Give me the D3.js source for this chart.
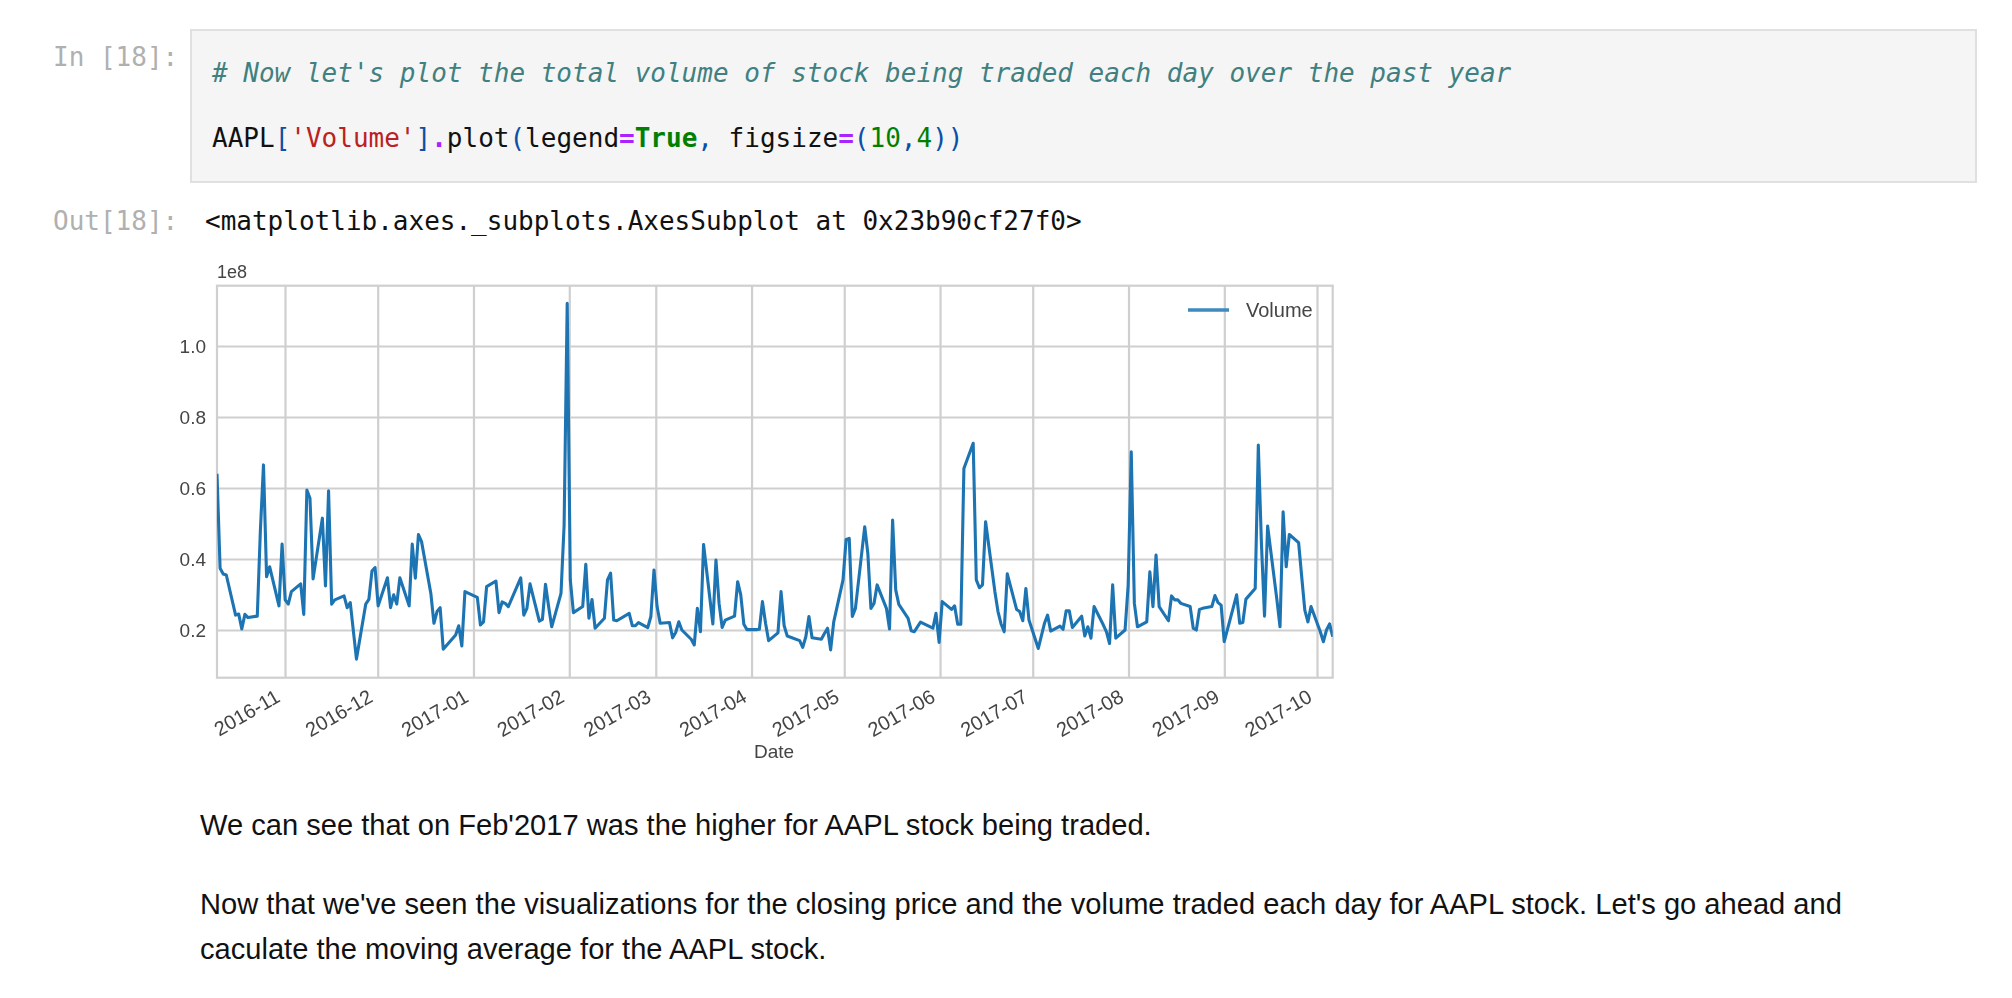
<!DOCTYPE html>
<html><head><meta charset="utf-8"><style>html,body{margin:0;padding:0;background:#fff}svg{display:block}</style>
<script src="https://cdn.jsdelivr.net/npm/d3@7"></script></head><body><script>
const dates=["2016-10-11","2016-10-12","2016-10-13","2016-10-14","2016-10-17","2016-10-18","2016-10-19","2016-10-20","2016-10-21","2016-10-24","2016-10-25","2016-10-26","2016-10-27","2016-10-28","2016-10-31",
"2016-11-01","2016-11-02","2016-11-03","2016-11-04","2016-11-07","2016-11-08","2016-11-09","2016-11-10","2016-11-11","2016-11-14","2016-11-15","2016-11-16","2016-11-17","2016-11-18","2016-11-21","2016-11-22","2016-11-23","2016-11-25","2016-11-28","2016-11-29","2016-11-30",
"2016-12-01","2016-12-02","2016-12-05","2016-12-06","2016-12-07","2016-12-08","2016-12-09","2016-12-12","2016-12-13","2016-12-14","2016-12-15","2016-12-16","2016-12-19","2016-12-20","2016-12-21","2016-12-22","2016-12-23","2016-12-27","2016-12-28","2016-12-29","2016-12-30",
"2017-01-03","2017-01-04","2017-01-05","2017-01-06","2017-01-09","2017-01-10","2017-01-11","2017-01-12","2017-01-13","2017-01-17","2017-01-18","2017-01-19","2017-01-20","2017-01-23","2017-01-24","2017-01-25","2017-01-26","2017-01-27","2017-01-30","2017-01-31",
"2017-02-01","2017-02-02","2017-02-03","2017-02-06","2017-02-07","2017-02-08","2017-02-09","2017-02-10","2017-02-13","2017-02-14","2017-02-15","2017-02-16","2017-02-17","2017-02-21","2017-02-22","2017-02-23","2017-02-24","2017-02-27","2017-02-28",
"2017-03-01","2017-03-02","2017-03-03","2017-03-06","2017-03-07","2017-03-08","2017-03-09","2017-03-10","2017-03-13","2017-03-14","2017-03-15","2017-03-16","2017-03-17","2017-03-20","2017-03-21","2017-03-22","2017-03-23","2017-03-24","2017-03-27","2017-03-28","2017-03-29","2017-03-30","2017-03-31",
"2017-04-03","2017-04-04","2017-04-05","2017-04-06","2017-04-07","2017-04-10","2017-04-11","2017-04-12","2017-04-13","2017-04-17","2017-04-18","2017-04-19","2017-04-20","2017-04-21","2017-04-24","2017-04-25","2017-04-26","2017-04-27","2017-04-28",
"2017-05-01","2017-05-02","2017-05-03","2017-05-04","2017-05-05","2017-05-08","2017-05-09","2017-05-10","2017-05-11","2017-05-12","2017-05-15","2017-05-16","2017-05-17","2017-05-18","2017-05-19","2017-05-22","2017-05-23","2017-05-24","2017-05-25","2017-05-26","2017-05-30","2017-05-31",
"2017-06-01","2017-06-02","2017-06-05","2017-06-06","2017-06-07","2017-06-08","2017-06-09","2017-06-12","2017-06-13","2017-06-14","2017-06-15","2017-06-16","2017-06-19","2017-06-20","2017-06-21","2017-06-22","2017-06-23","2017-06-26","2017-06-27","2017-06-28","2017-06-29","2017-06-30",
"2017-07-03","2017-07-05","2017-07-06","2017-07-07","2017-07-10","2017-07-11","2017-07-12","2017-07-13","2017-07-14","2017-07-17","2017-07-18","2017-07-19","2017-07-20","2017-07-21","2017-07-24","2017-07-25","2017-07-26","2017-07-27","2017-07-28","2017-07-31",
"2017-08-01","2017-08-02","2017-08-03","2017-08-04","2017-08-07","2017-08-08","2017-08-09","2017-08-10","2017-08-11","2017-08-14","2017-08-15","2017-08-16","2017-08-17","2017-08-18","2017-08-21","2017-08-22","2017-08-23","2017-08-24","2017-08-25","2017-08-28","2017-08-29","2017-08-30","2017-08-31",
"2017-09-01","2017-09-05","2017-09-06","2017-09-07","2017-09-08","2017-09-11","2017-09-12","2017-09-13","2017-09-14","2017-09-15","2017-09-18","2017-09-19","2017-09-20","2017-09-21","2017-09-22","2017-09-25","2017-09-26","2017-09-27","2017-09-28","2017-09-29",
"2017-10-02","2017-10-03","2017-10-04","2017-10-05","2017-10-06"];
const volume=[.64,.374,.358,.355,.242,.245,.203,.244,.235,.239,.481,.665,.35,.378,.268,
.442,.285,.273,.308,.33,.244,.594,.571,.344,.515,.324,.592,.273,.285,.296,.263,.277,.118,.273,.286,.366,
.376,.268,.347,.263,.299,.273,.347,.268,.442,.346,.469,.449,.303,.219,.252,.263,.146,.186,.212,.155,.308,
.292,.214,.223,.322,.338,.249,.279,.275,.266,.347,.242,.261,.33,.225,.23,.329,.266,.209,.303,.495,
1.12,.341,.249,.266,.385,.233,.286,.205,.233,.341,.36,.228,.226,.247,.212,.212,.221,.207,.238,
.369,.266,.219,.221,.178,.193,.223,.2,.174,.158,.261,.195,.441,.217,.397,.275,.207,.228,.239,.336,.299,.216,.201,
.201,.202,.28,.219,.17,.192,.308,.212,.183,.17,.151,.181,.238,.178,.174,.19,.205,.144,.223,
.341,.455,.458,.238,.261,.491,.416,.261,.275,.327,.261,.203,.51,.313,.272,.233,.198,.195,.209,.222,.205,.247,
.165,.28,.258,.268,.216,.216,.655,.726,.341,.319,.327,.505,.308,.252,.217,.195,.358,.258,.252,.226,.317,.228,
.148,.219,.242,.197,.211,.202,.254,.254,.207,.239,.183,.209,.177,.266,.214,.195,.162,.327,.177,.2,
.326,.702,.275,.209,.223,.364,.266,.411,.266,.226,.296,.285,.285,.275,.266,.205,.2,.258,.261,.266,.297,.277,.27,
.167,.299,.219,.221,.287,.317,.721,.444,.239,.493,.285,.209,.533,.378,.469,.446,.35,.256,.223,.266,
.195,.167,.2,.217,.181];
const monthTicks=["2016-11-01","2016-12-01","2017-01-01","2017-02-01","2017-03-01","2017-04-01","2017-05-01","2017-06-01","2017-07-01","2017-08-01","2017-09-01","2017-10-01"];
const yTicks=[0.2,0.4,0.6,0.8,1.0];
const seriesName="Volume", xLabel="Date", yExponent="1e8";
const codeComment="# Now let's plot the total volume of stock being traded each day over the past year";
const codeTokens=[["AAPL","#111"],["[","#0b4fa8"],["'Volume'","#ba2121"],["]","#0b4fa8"],[".","#aa22ff"],["plot","#111"],["(","#0b4fa8"],["legend","#111"],["=","#aa22ff"],["True","#008000"],[",","#0b4fa8"],[" figsize","#111"],["=","#aa22ff"],["(","#0b4fa8"],["10","#008000"],[",","#0b4fa8"],["4","#008000"],["))","#0b4fa8"]];
const paragraphs=["We can see that on Feb'2017 was the higher for AAPL stock being traded.","Now that we've seen the visualizations for the closing price and the volume traded each day for AAPL stock. Let's go ahead and","caculate the moving average for the AAPL stock."];

const W=2012,H=998,L=217,R=1332.7,T=285.7,B=677.7;
const parse=d3.utcParse("%Y-%m-%d");
const svg=d3.select("body").append("svg").attr("width",W).attr("height",H);
svg.append("rect").attr("width",W).attr("height",H).attr("fill","#fff");
const mono="'DejaVu Sans Mono',monospace", sans="'Liberation Sans',Arial,sans-serif";

// notebook cell
svg.append("rect").attr("x",191).attr("y",30).attr("width",1785).attr("height",152).attr("fill","#f5f5f5").attr("stroke","#e0e0e0").attr("stroke-width",2);
const mk=(x,y,t,c,fs)=>svg.append("text").attr("x",x).attr("y",y).attr("fill",c).attr("font-family",mono).attr("font-size",fs||26).attr("xml:space","preserve").text(t);
mk(53,66,"In [18]:","#b0b0b0");
mk(53,230,"Out[18]:","#b0b0b0");
mk(212,82,codeComment,"#408080").attr("font-style","italic");
const ct=svg.append("text").attr("x",212).attr("y",147).attr("font-family",mono).attr("font-size",26).attr("xml:space","preserve");
codeTokens.forEach(([t,c])=>{const s=ct.append("tspan").attr("fill",c).text(t);if(t==="True"||t==="="||t===".")s.attr("font-weight","bold");});
mk(205,230,"<matplotlib.axes._subplots.AxesSubplot at 0x23b90cf27f0>","#111");

// chart
const defs=svg.append("defs");
defs.append("filter").attr("id","soft").append("feGaussianBlur").attr("stdDeviation",0.7);
defs.append("clipPath").attr("id","plot").append("rect").attr("x",L).attr("y",T).attr("width",R-L).attr("height",B-T);
const g=svg.append("g").attr("filter","url(#soft)");
const x=d3.scaleUtc().domain([parse(dates[0]),parse(dates[dates.length-1])]).range([L,R]);
const xAxisScale=d3.scaleUtc().domain([parse("2016-11-01"),parse("2017-10-01")]).range([285,1317]);
const y=d3.scaleLinear().domain([0.2,1.0]).range([630,346]);
const gx=g.append("g").attr("transform",`translate(0,${B})`).call(d3.axisBottom(xAxisScale).tickValues(monthTicks.map(parse)).tickSize(-(B-T)).tickFormat(d3.utcFormat("%Y-%m")));
gx.select(".domain").remove();
gx.selectAll("line").attr("stroke","#cfcfcf").attr("stroke-width",2.2);
gx.selectAll("text").attr("font-family",sans).attr("font-size",20).attr("fill","#444").attr("text-anchor","end").attr("dy",null).attr("y",0).attr("x",0)
  .attr("transform","translate(-4,23) rotate(-30)");
const gy=g.append("g").attr("transform",`translate(${L},0)`).call(d3.axisLeft(y).tickValues(yTicks).tickSize(-(R-L)).tickFormat(d3.format(".1f")));
gy.select(".domain").remove();
gy.selectAll("line").attr("stroke","#cfcfcf").attr("stroke-width",2.2);
gy.selectAll("text").attr("font-family",sans).attr("font-size",19).attr("fill","#444").attr("x",-11);
g.append("rect").attr("x",L).attr("y",T).attr("width",R-L).attr("height",B-T).attr("fill","none").attr("stroke","#cfcfcf").attr("stroke-width",2.2);
const line=d3.line().x((d,i)=>x(parse(dates[i]))).y(d=>y(d));
g.append("path").datum(volume).attr("d",line).attr("fill","none").attr("stroke","#1f74b2").attr("stroke-width",3.1).attr("stroke-linejoin","round").attr("clip-path","url(#plot)");
g.append("line").attr("x1",1188).attr("x2",1229).attr("y1",310).attr("y2",310).attr("stroke","#3f89bf").attr("stroke-width",3.4);
const chartText=(xx,yy,t,a,fs)=>g.append("text").attr("x",xx).attr("y",yy).attr("text-anchor",a||"start").attr("font-family",sans).attr("font-size",fs||18).attr("fill","#444").text(t);
chartText(1246,317,seriesName,"start",20);
chartText(217,278,yExponent);
chartText(774,758,xLabel,"middle",19);

// prose
[[835,0],[914,1],[959,2]].forEach(([yy,i])=>svg.append("text").attr("x",200).attr("y",yy).attr("font-family",sans).attr("font-size",29.1).attr("fill","#111").text(paragraphs[i]));
</script></body></html>
